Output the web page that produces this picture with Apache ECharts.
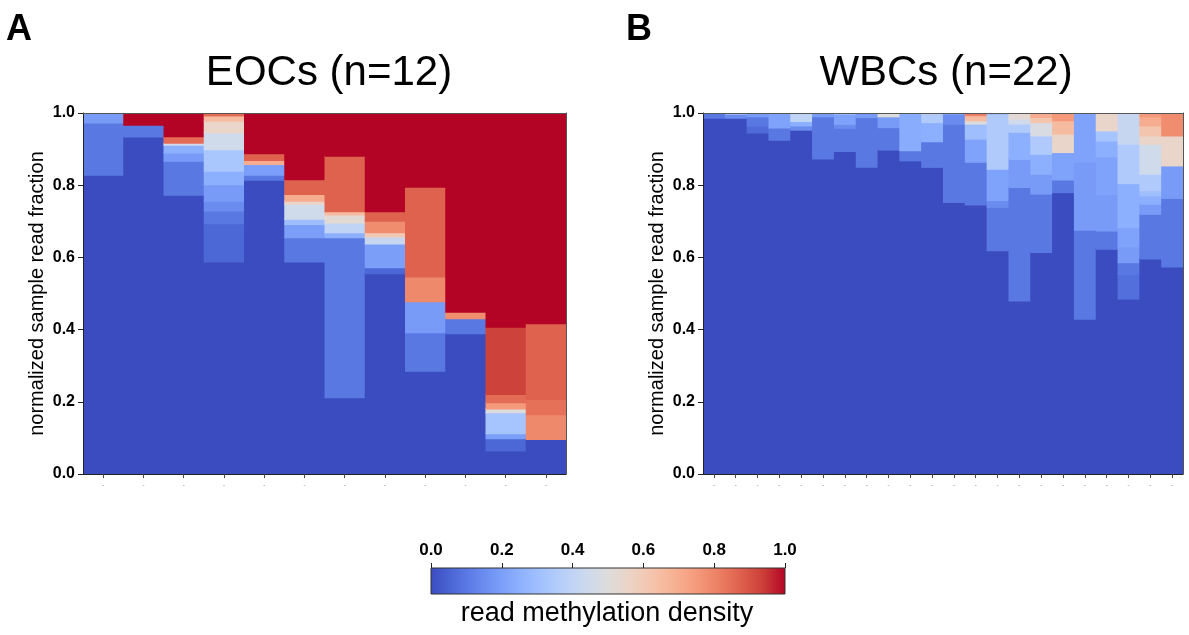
<!DOCTYPE html>
<html>
<head>
<meta charset="utf-8">
<script src="https://cdn.jsdelivr.net/npm/echarts@6/dist/echarts.min.js"></script>
<style>
  html, body { margin: 0; padding: 0; background: #fff; }
  #main { width: 1189px; height: 635px; }
</style>
</head>
<body>
<div id="main"></div>
<script>
// coolwarm colormap (0 -> 1, 17 stops)
const coolwarm = ['#3b4cc0', '#4d68d7', '#6282ea', '#779af7', '#8db0fe', '#a3c2fe', '#b8d0f9', '#ccd9ee',
  '#dddcdc', '#ecd3c5', '#f5c4ac', '#f7b193', '#f49a7b', '#ec7f63', '#de604d', '#cb3e38', '#b40426']

// EOCs (n=12): cumulative segment tops per sample and the read methylation density of each segment
const eocSamples = ['EOC1', 'EOC2', 'EOC3', 'EOC4', 'EOC5', 'EOC6', 'EOC7', 'EOC8', 'EOC9', 'EOC10', 'EOC11', 'EOC12']
const eocTops = [
  [0.826, 0.971, 1.0],
  [0.932, 0.965, 1.0],
  [0.771, 0.865, 0.888, 0.909, 0.915, 0.933, 1.0],
  [0.586, 0.692, 0.727, 0.754, 0.800, 0.837, 0.897, 0.944, 0.976, 0.990, 1.0],
  [0.812, 0.826, 0.856, 0.867, 0.886, 1.0],
  [0.586, 0.653, 0.690, 0.704, 0.745, 0.754, 0.773, 0.814, 1.0],
  [0.210, 0.653, 0.667, 0.694, 0.716, 0.725, 0.879, 1.0],
  [0.553, 0.570, 0.636, 0.655, 0.667, 0.699, 0.725, 1.0],
  [0.283, 0.390, 0.476, 0.544, 0.793, 1.0],
  [0.387, 0.429, 0.447, 1.0],
  [0.062, 0.096, 0.110, 0.168, 0.179, 0.196, 0.219, 0.405, 1.0],
  [0.094, 0.163, 0.205, 0.415, 1.0]
]
const eocDensity = [
  [0, 0.10, 0.19],
  [0, 0.10, 1.0],
  [0, 0.10, 0.19, 0.25, 0.45, 0.85, 1.0],
  [0, 0.06, 0.10, 0.15, 0.19, 0.25, 0.33, 0.45, 0.55, 0.65, 0.85],
  [0, 0.10, 0.20, 0.70, 0.87, 1.0],
  [0, 0.10, 0.20, 0.30, 0.45, 0.55, 0.70, 0.87, 1.0],
  [0, 0.10, 0.25, 0.40, 0.52, 0.65, 0.87, 1.0],
  [0, 0.06, 0.20, 0.42, 0.60, 0.78, 0.87, 1.0],
  [0, 0.10, 0.19, 0.79, 0.87, 1.0],
  [0, 0.10, 0.78, 1.0],
  [0, 0.06, 0.20, 0.32, 0.50, 0.75, 0.85, 0.93, 1.0],
  [0, 0.79, 0.84, 0.87, 1.0]
]

// WBCs (n=22)
const wbcSamples = ['WBC1', 'WBC2', 'WBC3', 'WBC4', 'WBC5', 'WBC6', 'WBC7', 'WBC8', 'WBC9', 'WBC10', 'WBC11',
  'WBC12', 'WBC13', 'WBC14', 'WBC15', 'WBC16', 'WBC17', 'WBC18', 'WBC19', 'WBC20', 'WBC21', 'WBC22']
const wbcTops = [
  [0.984, 1.0],
  [0.984, 0.995, 1.0],
  [0.943, 0.963, 0.988, 1.0],
  [0.923, 0.957, 1.0],
  [0.951, 0.963, 0.975, 1.0],
  [0.871, 0.988, 1.0],
  [0.892, 0.956, 0.967, 0.995, 1.0],
  [0.848, 0.986, 1.0],
  [0.896, 0.958, 0.988, 1.0],
  [0.866, 0.894, 1.0],
  [0.848, 0.919, 0.972, 0.997, 1.0],
  [0.751, 0.967, 0.995, 1.0],
  [0.744, 0.862, 0.926, 0.968, 0.977, 0.991, 0.997, 1.0],
  [0.617, 0.737, 0.756, 0.843, 0.995, 1.0],
  [0.478, 0.792, 0.870, 0.945, 0.968, 0.982, 1.0],
  [0.612, 0.774, 0.829, 0.884, 0.935, 0.972, 0.986, 1.0],
  [0.778, 0.813, 0.889, 0.940, 0.977, 1.0],
  [0.427, 0.674, 0.862, 1.0],
  [0.621, 0.672, 0.773, 0.877, 0.921, 0.949, 1.0],
  [0.483, 0.551, 0.584, 0.628, 0.681, 0.803, 0.912, 1.0],
  [0.594, 0.718, 0.746, 0.769, 0.783, 0.829, 0.912, 0.935, 0.963, 0.988, 1.0],
  [0.572, 0.762, 0.852, 0.935, 1.0]
]
const wbcDensity = [
  [0, 0.10],
  [0, 0.15, 0.30],
  [0, 0.07, 0.10, 0.19],
  [0, 0.10, 0.21],
  [0, 0.15, 0.25, 0.40],
  [0, 0.10, 0.19],
  [0, 0.10, 0.15, 0.21, 0.30],
  [0, 0.10, 0.19],
  [0, 0.10, 0.19, 0.50],
  [0, 0.10, 0.24],
  [0, 0.10, 0.25, 0.35, 0.70],
  [0, 0.10, 0.15, 0.21],
  [0, 0.10, 0.21, 0.30, 0.50, 0.65, 0.80, 1.0],
  [0, 0.10, 0.15, 0.21, 0.35, 0.30],
  [0, 0.10, 0.19, 0.25, 0.35, 0.45, 0.52],
  [0, 0.10, 0.19, 0.25, 0.35, 0.48, 0.62, 0.70],
  [0, 0.10, 0.21, 0.55, 0.65, 0.75],
  [0, 0.10, 0.19, 0.21],
  [0, 0.10, 0.19, 0.21, 0.25, 0.32, 0.55],
  [0, 0.08, 0.10, 0.19, 0.21, 0.25, 0.35, 0.42],
  [0, 0.10, 0.19, 0.25, 0.30, 0.35, 0.45, 0.55, 0.62, 0.70, 0.75],
  [0, 0.10, 0.19, 0.55, 0.78]
]

// colorbar
const colorbarRange = [0, 1]

const FONT = 'Liberation Sans, Arial, Helvetica, sans-serif'

function buildSegments(tops, density) {
  let out = []
  for (let i = 0; i < tops.length; ++i) {
    let bottom = 0
    for (let j = 0; j < tops[i].length; ++j) {
      out.push([i, bottom, tops[i][j], density[i][j]])
      bottom = tops[i][j]
    }
  }
  return out
}

function renderSegment(params, api) {
  let x = api.value(0)
  let p0 = api.coord([x, api.value(1)])
  let p1 = api.coord([x, api.value(2)])
  let w = api.size([1, 0])[0]
  // each block reaches a little under the next one drawn (right / above),
  // so no pale seams show; the overflow is clipped at the grid edge
  let pad = 1.5
  return {
    type: 'rect',
    shape: { x: p0[0] - w / 2, y: p1[1] - pad, width: w + pad, height: p0[1] - p1[1] + pad },
    style: { fill: api.visual('color') }
  }
}

function renderColorbar(params, api) {
  let p0 = api.coord([api.value(0), api.value(1)])
  let p1 = api.coord([api.value(2), api.value(3)])
  let stops = coolwarm.map((c, i) => ({ offset: i / (coolwarm.length - 1), color: c }))
  return {
    type: 'rect',
    shape: { x: p0[0], y: p1[1], width: p1[0] - p0[0], height: p0[1] - p1[1] },
    style: {
      fill: new echarts.graphic.LinearGradient(0, 0, 1, 0, stops),
      stroke: '#333', lineWidth: 1
    }
  }
}

function sampleAxes(gridIndex, names) {
  return [{
    type: 'category', gridIndex: gridIndex, data: names, position: 'bottom', z: 10,
    axisLine: { onZero: false, lineStyle: { color: '#222', width: 1 } },
    axisTick: { show: true, alignWithLabel: true, interval: 0, length: 4, lineStyle: { color: '#444' } },
    axisLabel: { show: true, interval: 0, margin: 8, fontSize: 6, color: '#777', formatter: () => '-' }
  }, {
    type: 'category', gridIndex: gridIndex, data: names, position: 'top', z: 10,
    axisLine: { onZero: false, lineStyle: { color: '#555', width: 1 } },
    axisTick: { show: false }, axisLabel: { show: false }
  }]
}

function fractionAxes(gridIndex) {
  return [{
    type: 'value', gridIndex: gridIndex, min: 0, max: 1, interval: 0.2, position: 'left', z: 10,
    name: 'normalized sample read fraction', nameLocation: 'middle', nameRotate: 90, nameGap: 36,
    nameTextStyle: { fontFamily: FONT, fontSize: 20, color: '#000' },
    axisLine: { show: true, onZero: false, lineStyle: { color: '#222', width: 1 } },
    axisTick: { show: true, length: 5, lineStyle: { color: '#222' } },
    axisLabel: {
      margin: 8, fontFamily: FONT, fontSize: 16, fontWeight: 'bold', color: '#000',
      formatter: v => v.toFixed(1)
    },
    splitLine: { show: false }
  }, {
    type: 'value', gridIndex: gridIndex, min: 0, max: 1, position: 'right', z: 10,
    axisLine: { show: true, onZero: false, lineStyle: { color: '#555', width: 1 } },
    axisTick: { show: false }, axisLabel: { show: false }, splitLine: { show: false }
  }]
}

let chart = echarts.init(document.getElementById('main'), null, { renderer: 'canvas' })

let option = {
  animation: false,
  backgroundColor: '#fff',
  grid: [
    { left: 83, top: 113, width: 483, height: 361 },
    { left: 703, top: 113, width: 480, height: 361 },
    { left: 431, top: 568, width: 354, height: 26 }
  ],
  xAxis: [
    ...sampleAxes(0, eocSamples),
    ...sampleAxes(1, wbcSamples),
    {
      type: 'value', gridIndex: 2, min: colorbarRange[0], max: colorbarRange[1], interval: 0.2,
      position: 'top', z: 10,
      axisLine: { show: false, onZero: false },
      axisTick: { show: true, length: 5, lineStyle: { color: '#222' } },
      axisLabel: {
        margin: 9, fontFamily: FONT, fontSize: 17, fontWeight: 'bold', color: '#000',
        formatter: v => v.toFixed(1)
      },
      splitLine: { show: false }
    }
  ],
  yAxis: [
    ...fractionAxes(0),
    ...fractionAxes(1),
    { type: 'value', gridIndex: 2, min: 0, max: 1, show: false }
  ],
  visualMap: {
    type: 'continuous', show: false, min: 0, max: 1, dimension: 3,
    seriesIndex: [0, 1],
    inRange: { color: coolwarm }
  },
  series: [{
    type: 'custom', name: 'EOCs', xAxisIndex: 0, yAxisIndex: 0, clip: true,
    renderItem: renderSegment, encode: { x: 0, y: [1, 2] },
    data: buildSegments(eocTops, eocDensity)
  }, {
    type: 'custom', name: 'WBCs', xAxisIndex: 2, yAxisIndex: 2, clip: true,
    renderItem: renderSegment, encode: { x: 0, y: [1, 2] },
    data: buildSegments(wbcTops, wbcDensity)
  }, {
    type: 'custom', name: 'colorbar', xAxisIndex: 4, yAxisIndex: 4,
    renderItem: renderColorbar, encode: { x: [0, 2], y: [1, 3] },
    data: [[colorbarRange[0], 0, colorbarRange[1], 1]]
  }],
  graphic: [
    { type: 'text', left: 6, top: 12, style: { text: 'A', font: 'bold 36px ' + FONT, fill: '#000' } },
    { type: 'text', left: 626, top: 12, style: { text: 'B', font: 'bold 36px ' + FONT, fill: '#000' } },
    { type: 'text', x: 329, y: 73, style: { text: 'EOCs (n=12)', font: '42px ' + FONT, fill: '#000', align: 'center', verticalAlign: 'middle' } },
    { type: 'text', x: 946, y: 73, style: { text: 'WBCs (n=22)', font: '42px ' + FONT, fill: '#000', align: 'center', verticalAlign: 'middle' } },
    { type: 'text', x: 607, y: 614, style: { text: 'read methylation density', font: '27px ' + FONT, fill: '#000', align: 'center', verticalAlign: 'middle' } }
  ]
}

chart.setOption(option)
</script>
</body>
</html>
